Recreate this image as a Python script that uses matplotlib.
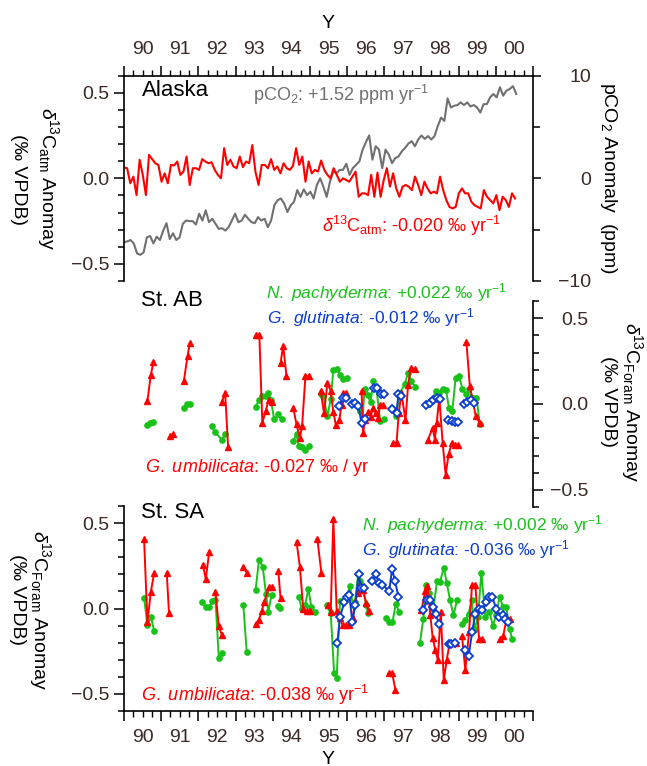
import numpy as np
import matplotlib
matplotlib.use('Agg')
import matplotlib.pyplot as plt

plt.rcParams['font.family'] = ['Liberation Sans', 'DejaVu Sans']
plt.rcParams['mathtext.fontset'] = 'custom'
plt.rcParams['mathtext.rm'] = 'Liberation Sans'
plt.rcParams['mathtext.it'] = 'Liberation Sans:italic'
plt.rcParams['axes.unicode_minus'] = True

RED = '#ff0000'
GREEN = '#19c219'
BLUE = '#0a3ccf'
GRAY = '#707070'
TICKCOL = '#3b2a26'
nan = np.nan

# ---- Alaska, monthly anomalies 1990 - mid 2000
d13c_atm = [0.063, 0.059, -0.029, 0.010, -0.098, 0.108, 0.020, -0.098, 0.137, 0.112,
            0.088, 0.078, -0.020, 0.029, -0.029, 0.078, 0.075, 0.098, 0.020, 0.039,
            0.127, -0.039, 0.059, 0.059, 0.049, 0.112, 0.098, 0.088, 0.094, 0.049,
            0.020, 0.0, 0.176, 0.078, 0.108, 0.069, 0.059, 0.127, 0.065, 0.098,
            0.088, 0.194, 0.039, -0.039, 0.078, 0.078, 0.059, 0.112, 0.049, 0.069,
            0.029, 0.088, 0.059, 0.049, 0.073, 0.176, 0.078, 0.127, -0.020, 0.098,
            0.029, 0.049, 0.039, 0.104, 0.049, 0.020, 0.0, 0.059, 0.020, -0.020,
            0.0, -0.010, -0.020, 0.010, 0.039, -0.108, -0.088, -0.088, -0.098, 0.020,
            -0.108, 0.033, -0.108, -0.010, 0.059, -0.049, 0.029, -0.059, -0.108, -0.049,
            -0.039, -0.049, -0.069, 0.010, -0.039, -0.098, -0.020, -0.059, -0.088, -0.078,
            -0.088, 0.010, -0.069, -0.127, -0.167, -0.176, -0.167, -0.088, -0.059, -0.088,
            -0.088, -0.137, -0.157, -0.167, -0.176, -0.069, -0.108, -0.127, -0.147, -0.098,
            -0.186, -0.108, -0.127, -0.167, -0.088, -0.118]
co2_anom = [-6.24, -6.14, -6.01, -6.34, -7.32, -7.45, -7.22, -5.75, -5.62, -6.34,
            -5.68, -6.01, -5.09, -4.37, -5.91, -5.35, -6.01, -5.75, -4.43, -4.11,
            -4.17, -4.17, -4.50, -3.45, -4.11, -3.12, -4.27, -3.94, -4.43, -4.93,
            -4.86, -5.09, -4.76, -4.11, -3.45, -4.27, -4.11, -3.55, -3.94, -4.27,
            -4.37, -3.78, -4.11, -3.94, -4.76, -4.11, -2.63, -2.13, -1.97, -2.46,
            -3.28, -2.63, -2.30, -1.15, -1.81, -1.08, -1.64, -1.31, -1.97, -0.66,
            0.0, -0.82, -1.81, -0.33, 0.66, 0.49, 0.82, 0.82, 1.41, 0.33,
            0.99, 1.31, 1.64, 2.79, 3.51, 4.17, 1.81, 3.12, 2.79, 0.99,
            2.79, 2.30, 1.48, 1.97, 2.13, 2.63, 2.96, 3.38, 3.61, 3.12,
            3.78, 4.17, 3.84, 4.11, 3.78, 4.11, 5.09, 5.91, 5.58, 7.78,
            6.90, 7.06, 7.13, 7.39, 7.13, 7.39, 7.00, 7.13, 6.90, 6.40,
            7.22, 7.22, 7.88, 8.21, 7.88, 8.87, 8.05, 8.54, 8.70, 8.97, 8.21]
t_d13c = np.linspace(1990.0, 2000.52, len(d13c_atm))
t_co2 = np.linspace(1990.0, 2000.55, len(co2_anom))

# ---- St. AB foraminifera (nan = gap between records)
ab_umb_t = [1990.63, 1990.72, 1990.79, nan, 1991.24, 1991.31, nan, 1991.61, 1991.71, 1991.77, nan,
            1992.63, 1992.72, 1992.80, nan, 1993.55, 1993.64, 1993.72, 1993.81, 1993.89, 1993.97, nan,
            1994.21, 1994.28, 1994.37, nan, 1994.55, 1994.64, 1994.73, 1994.79, 1994.88, 1994.97, nan,
            1995.29, 1995.38, 1995.47, 1995.56, 1995.63, 1995.70, 1995.79, 1995.85, 1995.90, 1995.97, nan,
            1996.39, 1996.43, 1996.48, 1996.57, 1996.63, 1996.70, 1996.77, 1996.84, 1996.88, 1996.97, nan,
            1997.24, 1997.33, 1997.39, 1997.46, 1997.57, 1997.64, 1997.71, 1997.82, nan,
            1998.18, 1998.30, 1998.36, 1998.41, 1998.48, 1998.57, 1998.65, 1998.73, 1998.81, 1998.90, 1998.99, nan,
            1999.21, 1999.30, 1999.46, 1999.57]
ab_umb_v = [0.018, 0.168, 0.242, nan, -0.187, -0.177, nan, 0.134, 0.281, 0.355, nan,
            0.012, 0.066, -0.250, nan, 0.402, 0.402, -0.109, -0.041, 0.023, 0.012, nan,
            0.238, 0.339, 0.164, nan, -0.021, -0.119, -0.197, -0.129, 0.164, 0.164, nan,
            0.076, -0.055, 0.121, 0.076, -0.047, -0.125, -0.094, -0.008, 0.066, 0.066, nan,
            0.076, -0.168, -0.094, -0.047, -0.074, -0.021, -0.055, -0.080, -0.008, -0.008, nan,
            -0.230, -0.226, -0.055, 0.066, -0.094, 0.109, 0.212, 0.203, nan,
            -0.207, -0.138, -0.207, -0.109, 0.037, -0.226, -0.411, -0.294, -0.230, -0.240, -0.240, nan,
            0.359, 0.105, -0.070, -0.113]
ab_pac_t = [1990.61, 1990.70, 1990.79, nan, 1991.61, 1991.70, 1991.77, nan,
            1992.36, 1992.45, 1992.63, 1992.72, nan,
            1993.54, 1993.63, 1993.72, 1993.81, 1993.88, 1993.95, 1994.04, 1994.15, 1994.24, nan,
            1994.55, 1994.64, 1994.70, 1994.79, 1994.88, 1994.97, nan,
            1995.29, 1995.36, 1995.47, 1995.56, 1995.63, 1995.72, 1995.81, 1995.90, 1995.99, nan,
            1996.34, 1996.41, 1996.47, 1996.55, 1996.63, 1996.71, 1996.79, 1996.89, 1996.98, nan,
            1997.20, 1997.31, 1997.42, 1997.55, 1997.64, 1997.73, 1997.82, nan,
            1998.18, 1998.29, 1998.38, 1998.47, 1998.57, 1998.66, 1998.74, 1998.83, 1998.92, 1999.01,
            1999.10, 1999.19, 1999.28, 1999.39, 1999.48, 1999.57]
ab_pac_v = [-0.125, -0.109, -0.105, nan, -0.021, -0.002, 0.002, nan,
            -0.129, -0.164, -0.207, -0.177, nan,
            -0.016, 0.023, 0.047, 0.047, 0.066, 0.023, -0.090, -0.060, -0.090, nan,
            -0.216, -0.177, -0.246, -0.250, -0.269, -0.246, nan,
            0.057, 0.047, -0.070, 0.027, 0.199, 0.203, 0.168, 0.144, 0.150, nan,
            -0.041, -0.109, 0.090, 0.051, 0.012, 0.135, 0.090, -0.099, -0.090, nan,
            -0.021, -0.070, 0.066, 0.115, 0.183, 0.135, 0.101, nan,
            -0.002, 0.018, 0.076, 0.066, 0.090, 0.082, -0.021, -0.041, 0.154, 0.164,
            0.090, 0.057, 0.086, 0.037, 0.037, -0.119]
ab_glu_t = [1995.79, 1995.88, 1995.97, nan, 1996.12, 1996.21, 1996.30, 1996.39, 1996.48, nan,
            1996.72, 1996.81, 1996.90, 1996.99, nan, 1997.21, 1997.33, 1997.38, 1997.46, nan,
            1998.12, 1998.23, 1998.31, 1998.41, 1998.49, nan, 1998.72, 1998.81, 1998.90, 1998.99, nan,
            1999.14, 1999.23, 1999.32, 1999.41]
ab_glu_v = [-0.012, 0.037, 0.037, nan, -0.002, 0.008, -0.012, -0.109, -0.090, nan,
            0.095, 0.096, 0.057, 0.057, nan, -0.031, -0.051, 0.057, 0.047, nan,
            -0.008, 0.004, 0.023, 0.037, 0.031, nan, -0.094, -0.099, -0.103, -0.105, nan,
            0.000, 0.012, 0.023, 0.004]

# ---- St. SA foraminifera
sa_umb_t = [1990.54, 1990.63, 1990.72, 1990.81, nan, 1991.15, 1991.21, nan,
            1992.12, 1992.20, 1992.29, nan, 1992.46, 1992.55, 1992.63, nan, 1993.21, 1993.30, nan,
            1993.54, 1993.63, 1993.70, 1993.77, 1993.90, 1993.99, nan, 1994.15, 1994.21, nan,
            1994.64, 1994.73, 1994.82, 1994.91, 1995.00, nan, 1995.20, 1995.31, nan,
            1995.49, 1995.56, 1995.63, 1995.72, 1995.81, 1995.88, 1995.97, 1996.06, 1996.15,
            1996.21, 1996.28, 1996.36, 1996.43, 1996.51, 1996.58, nan,
            1997.12, 1997.21, 1997.30, nan,
            1998.00, 1998.10, 1998.16, 1998.24, 1998.30, 1998.37, 1998.44, 1998.52, 1998.60,
            1998.68, 1998.76, 1998.84, 1998.92, nan,
            1999.09, 1999.18, 1999.28, 1999.36, 1999.45, 1999.55, 1999.63, nan,
            2000.11, 2000.20, 2000.29, 2000.39]
sa_umb_v = [0.407, -0.080, 0.095, 0.206, nan, 0.210, -0.027, nan,
            0.255, 0.173, 0.329, nan, 0.095, -0.105, -0.154, nan, 0.245, 0.210, nan,
            -0.091, -0.066, -0.017, 0.037, 0.125, 0.123, nan, 0.220, 0.061, nan,
            0.391, 0.245, -0.002, -0.017, -0.017, nan, 0.407, 0.206, nan,
            0.021, -0.021, 0.523, -0.013, -0.056, -0.099, -0.099, -0.095, -0.053,
            0.037, 0.090, 0.142, 0.109, 0.031, -0.013, nan,
            -0.377, -0.377, -0.475, nan,
            -0.01, 0.10, 0.13, -0.04, -0.17, -0.24, -0.30, -0.02, -0.42,
            -0.30, -0.20, -0.20, -0.20, nan,
            -0.16, -0.36, -0.14, 0.14, 0.14, -0.18, -0.18, nan,
            -0.18, -0.16, -0.06, -0.06]
sa_pac_t = [1990.54, 1990.63, 1990.72, 1990.81, nan,
            1992.11, 1992.20, 1992.29, 1992.37, 1992.46, 1992.55, 1992.63, nan, 1993.21, 1993.30, nan,
            1993.54, 1993.63, 1993.73, 1993.82, 1993.88, 1993.97, nan, 1994.13, 1994.20, nan,
            1994.70, 1994.78, 1994.87, 1994.96, 1995.04, 1995.13, nan,
            1995.45, 1995.56, 1995.65, 1995.72, 1995.81, 1995.90, 1995.99, 1996.08, 1996.15,
            1996.21, 1996.30, 1996.36, 1996.43, 1996.51, 1996.57, nan,
            1997.04, 1997.13, 1997.22, 1997.31, 1997.40, nan,
            1997.96, 1998.05, 1998.13, 1998.21, 1998.32, 1998.42, 1998.50, 1998.60, 1998.68,
            1998.77, 1998.86, 1998.96, nan,
            1999.10, 1999.18, 1999.27, 1999.35, 1999.43, 1999.52, 1999.61, 1999.72, 1999.83,
            1999.92, 2000.01, 2000.10, 2000.19, 2000.28, 2000.37, 2000.44]
sa_pac_v = [0.064, -0.099, -0.047, -0.130, nan,
            0.037, 0.008, 0.006, 0.041, 0.051, -0.290, -0.260, nan, 0.018, -0.255, nan,
            0.109, 0.284, 0.245, 0.084, -0.021, 0.080, nan, 0.016, 0.002, nan,
            0.070, -0.002, 0.018, 0.115, 0.006, -0.021, nan,
            0.018, -0.027, -0.377, -0.407, 0.041, 0.045, 0.070, 0.134, 0.021,
            0.037, 0.200, 0.161, 0.128, 0.021, -0.027, nan,
            -0.056, -0.080, -0.080, 0.027, -0.021, nan,
            -0.20, -0.06, 0.14, 0.09, 0.00, 0.16, 0.155, 0.24, 0.15,
            0.05, -0.04, 0.05, nan,
            -0.09, -0.07, -0.03, 0.05, -0.12, -0.05, 0.21, -0.05, -0.02,
            -0.10, -0.04, 0.07, 0.01, 0.01, -0.12, -0.18]
sa_glu_t = [1995.74, 1995.81, 1995.93, 1996.00, 1996.06, 1996.14, 1996.22, 1996.31, 1996.38, 1996.46, nan,
            1996.68, 1996.77, 1996.86, 1996.95, 1997.13, 1997.21, 1997.29, 1997.38, nan,
            1998.05, 1998.15, 1998.22, 1998.31, 1998.38, 1998.47, nan, 1998.73, 1998.80, 1998.89, nan,
            1999.17, 1999.27, 1999.36, 1999.45, 1999.55, 1999.64, 1999.73, 1999.83, 1999.90,
            2000.01, 2000.09, 2000.18, 2000.25, 2000.34]
sa_glu_v = [-0.20, -0.05, 0.04, 0.07, 0.08, -0.08, 0.02, 0.20, 0.12, 0.12, nan,
            0.16, 0.20, 0.15, 0.14, 0.10, 0.23, 0.16, 0.07, nan,
            -0.01, 0.05, 0.05, 0.01, -0.03, -0.09, nan, -0.21, -0.21, -0.20, nan,
            -0.24, -0.28, -0.14, -0.03, 0.00, -0.01, 0.04, 0.07, 0.07,
            0.00, -0.05, -0.04, -0.06, -0.08]

year_ticks = np.arange(1990, 2002)
quarter_ticks = [y + q for y in range(1990, 2001) for q in (0.25, 0.5, 0.75)]
quarter_labels = ['%02d' % (y % 100) if q == 0.5 else ''
                  for y in range(1990, 2001) for q in (0.25, 0.5, 0.75)]

W, H = 647.0, 766.0
def fx(px):
    return px / W
def fy(py):
    return 1 - py / H

fig = plt.figure(figsize=(6.47, 7.66), dpi=100)

def time_axis(ax, where):
    ax.set_xlim(1990, 2001)
    ax.set_xticks(year_ticks)
    ax.set_xticklabels([''] * len(year_ticks))
    ax.set_xticks(quarter_ticks, minor=True)
    ax.set_xticklabels(quarter_labels, minor=True)
    top = where == 'top'
    ax.tick_params(axis='x', which='both', direction='out', top=top, bottom=not top,
                   labeltop=top, labelbottom=not top, colors='black', labelcolor=TICKCOL)
    ax.tick_params(axis='x', which='major', length=7, width=1.1)
    ax.tick_params(axis='x', which='minor', length=4, width=1.0, pad=9, labelsize=14)

def delta_axis(ax, side):
    ax.set_ylim(-0.6, 0.6)
    ax.set_yticks([-0.5, 0.0, 0.5])
    ax.set_yticklabels(['\u22120.5', '0.0', '0.5'])
    ax.set_yticks([-0.6, -0.4, -0.3, -0.2, -0.1, 0.1, 0.2, 0.3, 0.4, 0.6], minor=True)
    if side == 'right':
        ax.yaxis.tick_right()
        ax.tick_params(axis='y', which='major', pad=33)
        for lab in ax.get_yticklabels():
            lab.set_horizontalalignment('right')
    ax.tick_params(axis='y', which='both', direction='out', labelsize=14,
                   labelcolor=TICKCOL, width=1.1)
    ax.tick_params(axis='y', which='major', length=7)
    ax.tick_params(axis='y', which='minor', length=4)

# ---------------- top panel: Alaska
ax1 = fig.add_axes([fx(124), fy(281), 409 / W, 205.4 / H])
ax1r = ax1.twinx()
ax1r.plot(t_co2, co2_anom, color=GRAY, lw=1.5)
ax1.plot(t_d13c, d13c_atm, color=RED, lw=1.5)
ax1.set_zorder(ax1r.get_zorder() + 1)
ax1.patch.set_visible(False)
time_axis(ax1, 'top')
delta_axis(ax1, 'left')
ax1.spines['bottom'].set_visible(False)
ax1.spines['right'].set_visible(False)
for s in ['left', 'top', 'bottom']:
    ax1r.spines[s].set_visible(False)
ax1r.set_ylim(-10, 10)
ax1r.set_yticks([-10, 0, 10])
ax1r.set_yticklabels(['\u221210', '0', '10'])
ax1r.set_yticks([-5, 5], minor=True)
ax1r.tick_params(axis='y', which='both', direction='out', labelsize=14, labelcolor=TICKCOL, width=1.1)
ax1r.tick_params(axis='y', which='major', length=6, pad=36)
ax1r.tick_params(axis='y', which='minor', length=5)
for lab in ax1r.get_yticklabels():
    lab.set_horizontalalignment('right')
for s in ax1.spines.values():
    s.set_linewidth(1.2)
ax1r.spines['right'].set_linewidth(1.2)

# ---------------- middle panel: St. AB
ax2 = fig.add_axes([fx(124), fy(507), 409 / W, 206 / H])
ax2.plot(ab_pac_t, ab_pac_v, color=GREEN, lw=1.4, marker='o', ms=3.8)
ax2.plot(ab_umb_t, ab_umb_v, color=RED, lw=1.4, marker='^', ms=5)
ax2.plot(ab_glu_t, ab_glu_v, color=BLUE, lw=1.4, marker='D', ms=4.2, mfc='white', mew=1.3)
ax2.set_xlim(1990, 2001)
ax2.set_xticks([])
delta_axis(ax2, 'right')
for s in ['left', 'top', 'bottom']:
    ax2.spines[s].set_visible(False)
ax2.spines['right'].set_linewidth(1.2)
ax2.patch.set_visible(False)

# ---------------- bottom panel: St. SA
ax3 = fig.add_axes([fx(124), fy(711), 409 / W, 205 / H])
ax3.plot(sa_pac_t, sa_pac_v, color=GREEN, lw=1.4, marker='o', ms=3.8)
ax3.plot(sa_umb_t, sa_umb_v, color=RED, lw=1.4, marker='^', ms=5)
ax3.plot(sa_glu_t, sa_glu_v, color=BLUE, lw=1.4, marker='D', ms=4.2, mfc='white', mew=1.3)
time_axis(ax3, 'bottom')
delta_axis(ax3, 'left')
ax3.spines['top'].set_visible(False)
ax3.spines['right'].set_visible(False)
for s in ['left', 'bottom']:
    ax3.spines[s].set_linewidth(1.2)
ax3.patch.set_visible(False)

# ---------------- texts
fig.text(fx(328.5), fy(24), 'Y', ha='center', va='center', fontsize=14)
fig.text(fx(328.5), fy(759), 'Y', ha='center', va='center', fontsize=14)

fig.text(fx(142), fy(91), 'Alaska', fontsize=16, va='center')
fig.text(fx(253), fy(95), r'pCO$_2$: +1.52 ppm yr$^{\mathrm{-1}}$', color=GRAY, fontsize=13, va='center')
fig.text(fx(322), fy(226), r'$\delta$$^{13}$C$_{\mathrm{atm}}$: -0.020 ‰ yr$^{\mathrm{-1}}$',
         color=RED, fontsize=13, va='center')

fig.text(fx(141), fy(301), 'St. AB', fontsize=16, va='center')
fig.text(fx(266), fy(293), r'$\mathit{N.\ pachyderma}$: +0.022 ‰ yr$^{\mathrm{-1}}$',
         color=GREEN, fontsize=12.5, va='center')
fig.text(fx(267), fy(318), r'$\mathit{G.\ glutinata}$: -0.012 ‰ yr$^{\mathrm{-1}}$',
         color=BLUE, fontsize=12.5, va='center')
fig.text(fx(145), fy(467), r'$\mathit{G.\ umbilicata}$: -0.027 ‰ / yr',
         color=RED, fontsize=13, va='center')

fig.text(fx(141), fy(513), 'St. SA', fontsize=16, va='center')
fig.text(fx(362), fy(525), r'$\mathit{N.\ pachyderma}$: +0.002 ‰ yr$^{\mathrm{-1}}$',
         color=GREEN, fontsize=12.5, va='center')
fig.text(fx(362), fy(550), r'$\mathit{G.\ glutinata}$: -0.036 ‰ yr$^{\mathrm{-1}}$',
         color=BLUE, fontsize=12.5, va='center')
fig.text(fx(141), fy(695), r'$\mathit{G.\ umbilicata}$: -0.038 ‰ yr$^{\mathrm{-1}}$',
         color=RED, fontsize=13, va='center')

# axis titles (read top to bottom)
fig.text(fx(48), fy(179), r'$\delta$$^{13}$C$_{\mathrm{atm}}$ Anomay', rotation=270,
         ha='center', va='center', fontsize=14)
fig.text(fx(18), fy(179), '(‰ VPDB)', rotation=270, ha='center', va='center', fontsize=14)
fig.text(fx(609), fy(178), r'pCO$_2$ Anomaly  (ppm)', rotation=270,
         ha='center', va='center', fontsize=14)
fig.text(fx(632), fy(402), r'$\delta$$^{13}$C$_{\mathrm{Foram}}$ Anomay', rotation=270,
         ha='center', va='center', fontsize=14)
fig.text(fx(608), fy(402), '(‰ VPDB)', rotation=270, ha='center', va='center', fontsize=14)
fig.text(fx(40), fy(610), r'$\delta$$^{13}$C$_{\mathrm{Foram}}$ Anomay', rotation=270,
         ha='center', va='center', fontsize=14)
fig.text(fx(17), fy(600), '(‰ VPDB)', rotation=270, ha='center', va='center', fontsize=14)

fig.savefig('out.png', dpi=100, facecolor='white')
